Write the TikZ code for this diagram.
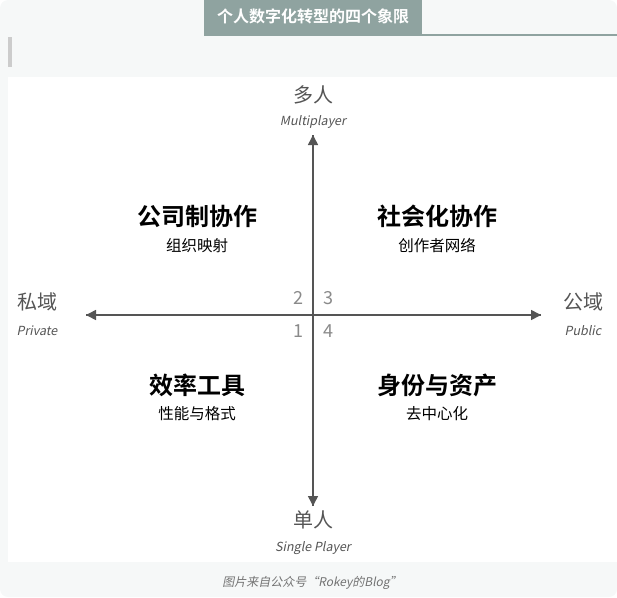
\documentclass[tikz,border=0pt]{standalone}
\usepackage{fontspec}
\setmainfont{Noto Sans CJK SC}[BoldFont={Noto Sans CJK SC Bold}]
\newfontfamily\cjkit{Noto Sans CJK SC}[FakeSlant=0.2]
\usetikzlibrary{arrows.meta}
\definecolor{bgcol}{HTML}{F6F8F8}
\definecolor{titlecol}{HTML}{8FA3A0}
\definecolor{axiscol}{HTML}{555555}
\definecolor{numcol}{HTML}{8A8A8A}
\begin{document}
\begin{tikzpicture}[x=1pt, y=-1pt,
    axis/.style = {draw=axiscol, line width=1.6pt, -{Triangle[length=10pt,width=10pt]}},
    pole/.style = {text=axiscol, font=\fontsize{20}{20}\selectfont},
    poleen/.style = {text=axiscol, font=\cjkit\fontsize{12.5}{12.5}\selectfont},
    num/.style = {text=numcol, font=\fontsize{18}{18}\selectfont},
    quad/.style = {font=\bfseries\fontsize{24}{24}\selectfont},
    sub/.style = {font=\fontsize{15.5}{15.5}\selectfont}]
    \useasboundingbox (0,0) rectangle (617,597);
    \fill[bgcol, rounded corners=8pt] (0,0) rectangle (617,597);
    \fill[white] (8,77) rectangle (617,562);
    % title
    \fill[titlecol] (204,0) rectangle (422,36);
    \draw[titlecol, line width=1.5pt] (422,35) -- (617,35);
    \node[text=white, font=\bfseries\fontsize{16}{16}\selectfont] (title) at (313,16) {个人数字化转型的四个象限};
    \fill[black!20] (8,37) rectangle (12,67);
    % axes
    \coordinate (c) at (313,315);
    \coordinate (top) at (313,135);
    \coordinate (bot) at (313,506);
    \coordinate (lft) at (86,315);
    \coordinate (rgt) at (541,315);
    \draw[axis] (bot) -- (top);
    \draw[axis] (top) -- (bot);
    \draw[axis] (rgt) -- (lft);
    \draw[axis] (lft) -- (rgt);
    % poles
    \node[pole] (multi) at (313,95) {多人};
    \node[poleen] (multien) at (313,122) {Multiplayer};
    \node[pole] (single) at (313,520) {单人};
    \node[poleen] (singleen) at (313,548) {Single Player};
    \node[pole] (priv) at (37,302) {私域};
    \node[poleen] (priven) at (37,331) {Private};
    \node[pole] (pub) at (583,302) {公域};
    \node[poleen] (puben) at (583,331) {Public};
    % quadrant numbers
    \node[num] (n2) at (298,298) {2};
    \node[num] (n3) at (328,298) {3};
    \node[num] (n1) at (298,331) {1};
    \node[num] (n4) at (328,331) {4};
    % quadrants
    \node[quad] (q2) at (197,216) {公司制协作};
    \node[sub] (q2s) at (197,246) {组织映射};
    \node[quad] (q3) at (437,216) {社会化协作};
    \node[sub] (q3s) at (437,246) {创作者网络};
    \node[quad] (q1) at (197,385) {效率工具};
    \node[sub] (q1s) at (197,414) {性能与格式};
    \node[quad] (q4) at (437,385) {身份与资产};
    \node[sub] (q4s) at (437,414) {去中心化};
    % caption
    \node[text=black!55, font=\cjkit\fontsize{12}{12}\selectfont] (cap) at (312,583) {图片来自公众号“Rokey的Blog”};
\end{tikzpicture}
\end{document}
